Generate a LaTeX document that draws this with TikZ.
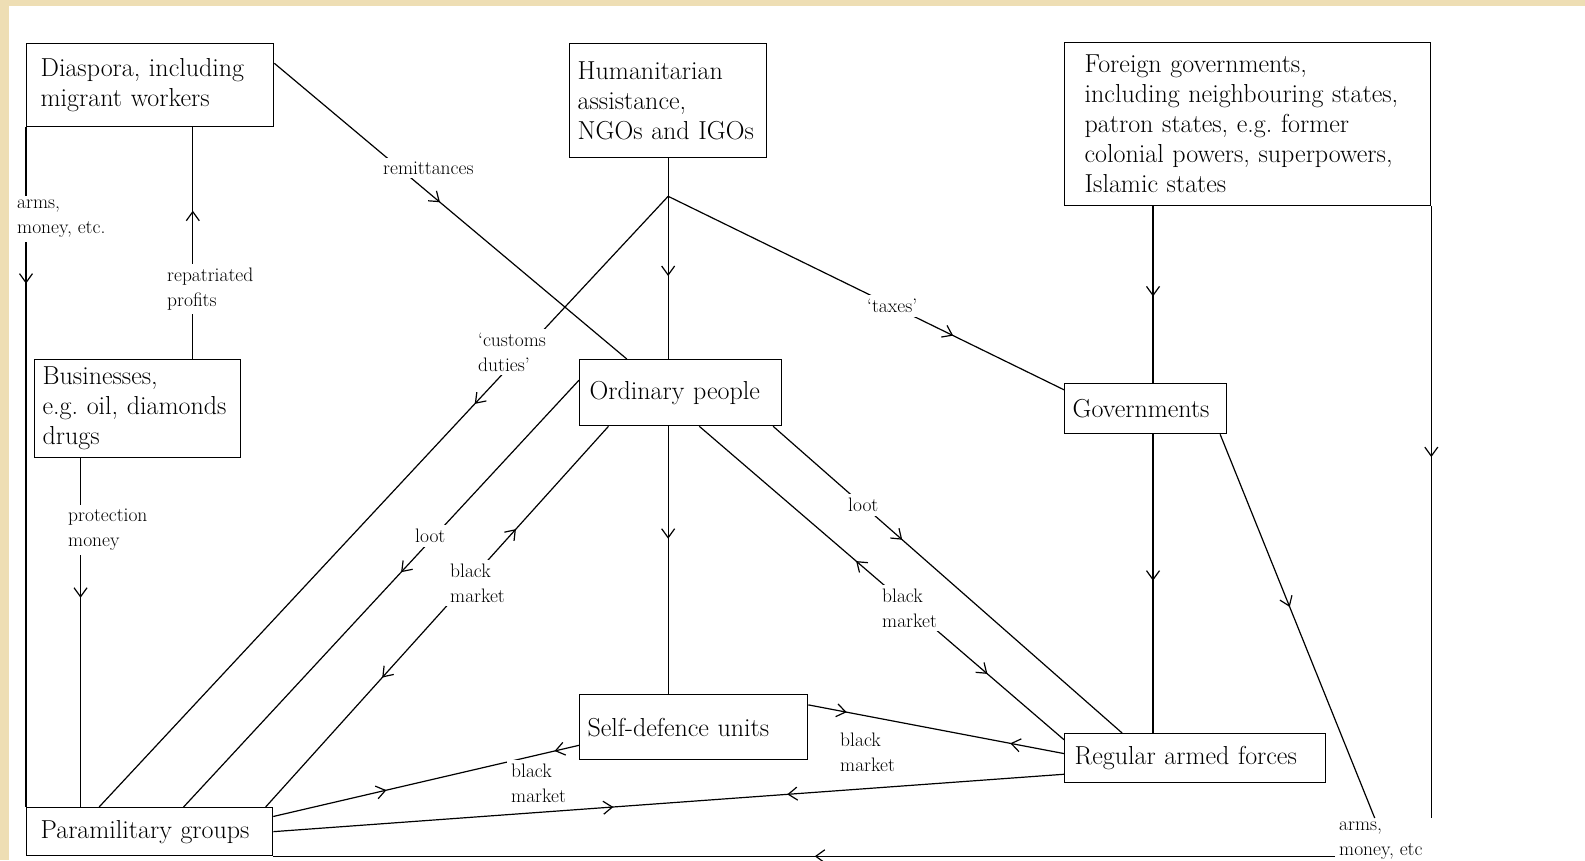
\documentclass[tikz,border=0pt]{standalone}
\usetikzlibrary{arrows.meta,decorations.markings,calc}

\definecolor{parchment}{RGB}{238,222,180}

\tikzset{
    flowtip/.tip={Straight Barb[length=9pt,width=13pt,line width=1.2pt]},
    box/.style={draw, line width=1.3pt, anchor=north west, align=left,
        inner ysep=0pt, font=\fontsize{26}{30}\selectfont},
    lbl/.style={fill=white, align=left, anchor=west, inner sep=4pt,
        font=\fontsize{19.5}{25}\selectfont},
    flow/.style={line width=1.2pt},
    fwd at/.style={postaction={decorate, decoration={markings,
        mark=at position #1 with {\arrow{flowtip}}}}},
    bwd at/.style={postaction={decorate, decoration={markings,
        mark=at position #1 with {\arrowreversed{flowtip}}}}},
}

\begin{document}
\begin{tikzpicture}[x=1pt,y=-1pt]
    \useasboundingbox (0,0) rectangle (1585,860);
    \fill[parchment] (0,0) rectangle (1585,860);
    \fill[white] (9,6) rectangle (1585,860);

    \node[box, inner xsep=14pt, text width=219pt, minimum height=83pt] (dias) at (26,43)
        {Diaspora, including\\migrant workers};
    \node[box, inner xsep=8pt, text width=181pt, minimum height=114pt] (hum) at (569,43)
        {Humanitarian\\assistance,\\NGOs and IGOs};
    \node[box, inner xsep=20pt, text width=326pt, minimum height=163pt] (foreign) at (1064,42)
        {Foreign governments,\\including neighbouring states,\\patron states, e.g.\ former\\colonial powers, superpowers,\\Islamic states};
    \node[box, inner xsep=8pt, text width=190pt, minimum height=98pt] (bus) at (34,359)
        {Businesses,\\e.g.\ oil, diamonds\\drugs};
    \node[box, inner xsep=10pt, text width=182pt, minimum height=66pt] (ord) at (579,359)
        {Ordinary people};
    \node[box, inner xsep=8pt, text width=146pt, minimum height=50pt] (gov) at (1064,383)
        {Governments};
    \node[box, inner xsep=8pt, text width=212pt, minimum height=65pt] (sdu) at (579,694)
        {Self-defence units};
    \node[box, inner xsep=10pt, text width=241pt, minimum height=49pt] (raf) at (1064,733)
        {Regular armed forces};
    \node[box, inner xsep=14pt, text width=218pt, minimum height=48pt] (para) at (26,807)
        {Paramilitary groups};
    \node[lbl] (armsR) at (1335,841) {arms,\\money, etc};

    \coordinate (split) at ($(hum.south)+(0,38)$);

    % flows
    \draw[flow, fwd at=0.23] (dias.south west) -- (para.north west);
    \draw[flow, fwd at=0.64] (bus.42) -- (bus.42 |- dias.south);
    \draw[flow, fwd at=0.47] (dias.10) -- (ord.148);
    \draw[flow] (hum.south) -- (split);
    \draw[flow, fwd at=0.49] (split) -- (split |- ord.north);
    \draw[flow, fwd at=0.34] (split) -- (para.154);
    \draw[flow, fwd at=0.72] (split) -- (gov.167);
    \draw[flow, fwd at=0.45] (ord.173) -- (para.36);
    \draw[flow, bwd at=0.27, fwd at=0.66] (ord.205) -- (para.12);
    \draw[flow, fwd at=0.42] (split |- ord.south) -- (split |- sdu.north);
    \draw[flow, bwd at=0.43, fwd at=0.79] (ord.299) -- (raf.172);
    \draw[flow, fwd at=0.37] (ord.340) -- (raf.161);
    \draw[flow, fwd at=0.51] (gov.74 |- foreign.south) -- (gov.74);
    \draw[flow, fwd at=0.49] (gov.286) -- (gov.286 |- raf.north);
    \draw[flow, fwd at=0.45] (gov.341) -- (armsR.105);
    \draw[flow, fwd at=0.41] (foreign.south east) -- (foreign.south east |- armsR.north);
    \draw[flow, fwd at=0.49] (para.south east -| armsR.west) -- (para.south east);
    \draw[flow, fwd at=0.15, bwd at=0.79] (sdu.11) -- (raf.178);
    \draw[flow, fwd at=0.08, bwd at=0.63] (sdu.189) -- (para.7);
    \draw[flow, fwd at=0.35, bwd at=0.57] (raf.187) -- (para.east);
    \draw[flow, fwd at=0.40] (bus.221) -- (bus.221 |- para.north);

    % labels
    \node[lbl] (armsL) at (13,219) {arms,\\money, etc.};
    \node[lbl] (repat) at (163,289) {repatriated\\profits};
    \node[lbl] (remit) at (379,168) {remittances};
    \node[lbl] (prot) at (64,530) {protection\\money};
    \node[lbl] (cust) at (474,352) {`customs\\duties'};
    \node[lbl] (taxes) at (863,306) {`taxes'};
    \node[lbl] (lootL) at (411,536) {loot};
    \node[lbl] (bmL) at (446,583) {black\\market};
    \node[lbl] (lootR) at (844,505) {loot};
    \node[lbl] (bmR) at (878,608) {black\\market};
    \node[lbl] (bmSR) at (836,752) {black\\market};
    \node[lbl] (bmSP) at (507,783) {black\\market};
\end{tikzpicture}
\end{document}
